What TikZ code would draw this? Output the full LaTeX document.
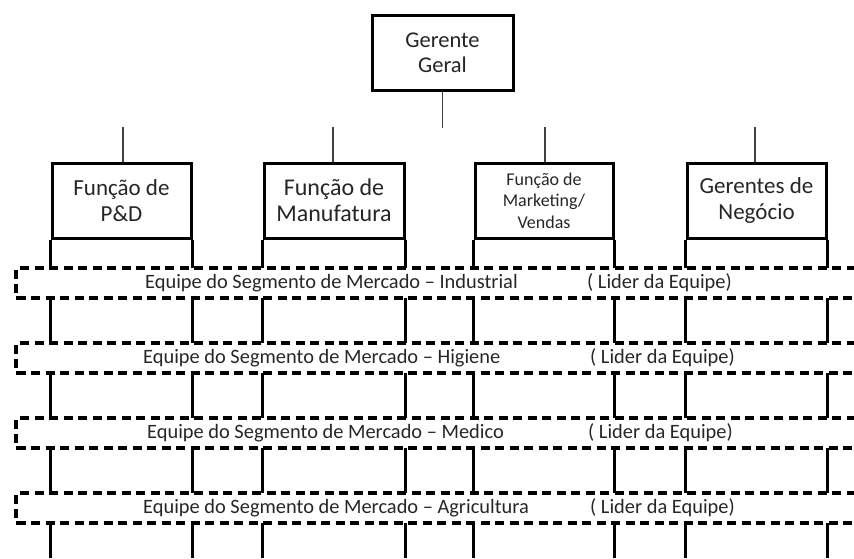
\documentclass[tikz,border=0pt]{standalone}
\usepackage{fontspec}
\setmainfont{Carlito}
\begin{document}
\begin{tikzpicture}[x=1pt,y=-1pt,
  orgbox/.style={draw=black,line width=3pt,fill=white,inner sep=0pt,
    align=center,text=black!85},
  link/.style={draw=black!75,line width=1.4pt},
  colline/.style={draw=black,line width=3pt},
  band/.style={draw=black,line width=3.3pt,dash pattern=on 9pt off 5.5pt},
  bandtext/.style={anchor=west,font=\fontsize{20.4}{22}\selectfont,text=black!85,inner sep=0pt}]
\useasboundingbox (0,0) rectangle (854,558);

% top management
\node[orgbox,minimum width=141pt,minimum height=75pt,
  font=\fontsize{22.5}{25}\selectfont] (gg) at (442.5,52.5) {Gerente\\Geral};
\coordinate (ggend) at (442.5,128);
\draw[link] (gg.south) -- (ggend);

% functional heads
\node[orgbox,minimum width=139pt,minimum height=75pt,
  font=\fontsize{23}{26}\selectfont] (pd) at (121.5,200.5) {Função de\\P\&D};
\node[orgbox,minimum width=140pt,minimum height=75pt,
  font=\fontsize{24}{26}\selectfont] (mf) at (334,200.5) {Função de\\Manufatura};
\node[orgbox,minimum width=138pt,minimum height=75pt,
  font=\fontsize{18}{21.5}\selectfont] (mk) at (544,200.5) {Função de\\Marketing/\\Vendas};
\node[orgbox,minimum width=139pt,minimum height=75pt,
  font=\fontsize{23}{26}\selectfont] (gn) at (756.5,200.5) {Gerentes de\\Negócio};

% short links above each function
\foreach \n/\x in {pd/123,mf/333,mk/545,gn/755}{
  \coordinate (\n top) at (\x,127);
  \draw[link] (\n top) -- (\n.north -| \n top);
}

% market segment team bands (tops and bottoms)
\foreach \i/\t/\b in {1/268/298,2/343/373,3/418/448,4/493/523}{
  \coordinate (b\i tl) at (16,\t);
  \coordinate (b\i bl) at (16,\b);
  \coordinate (b\i tr) at (870,\t);
  \coordinate (b\i br) at (870,\b);
}
\coordinate (bottom) at (0,558);

% column sides running through the bands
\foreach \n in {pd,mf,mk,gn}{
  \draw[colline] (\n.south west) -- (\n.south west |- b1tl);
  \draw[colline] (\n.south east) -- (\n.south east |- b1tl);
  \foreach \i/\j in {1/2,2/3,3/4}{
    \draw[colline] (\n.south west |- b\i bl) -- (\n.south west |- b\j tl);
    \draw[colline] (\n.south east |- b\i bl) -- (\n.south east |- b\j tl);
  }
  \draw[colline] (\n.south west |- b4bl) -- (\n.south west |- bottom);
  \draw[colline] (\n.south east |- b4bl) -- (\n.south east |- bottom);
}

% dashed bands
\foreach \i in {1,2,3,4}{
  \draw[band] (b\i tr) -- (b\i tl) -- (b\i bl) -- (b\i br);
}

% band labels
\node[bandtext] (t1) at (145,283) {Equipe do Segmento de Mercado – Industrial};
\node[bandtext] (l1) at (587,283) {( Lider da Equipe)};
\node[bandtext] (t2) at (143,358) {Equipe do Segmento de Mercado – Higiene};
\node[bandtext] (l2) at (590,358) {( Lider da Equipe)};
\node[bandtext] (t3) at (147,433) {Equipe do Segmento de Mercado – Medico};
\node[bandtext] (l3) at (588,433) {( Lider da Equipe)};
\node[bandtext] (t4) at (143,508) {Equipe do Segmento de Mercado – Agricultura};
\node[bandtext] (l4) at (590,508) {( Lider da Equipe)};
\end{tikzpicture}
\end{document}
